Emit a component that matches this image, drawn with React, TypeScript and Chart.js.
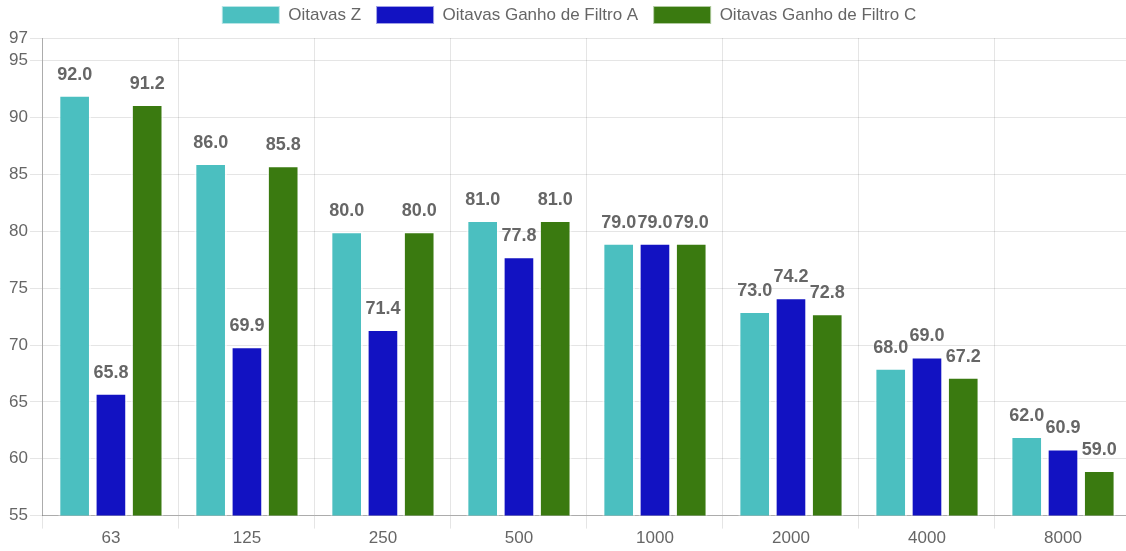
import React, { useEffect, useRef } from "react";
import { Chart, registerables } from "chart.js";

Chart.register(...registerables);

const categories = ["63", "125", "250", "500", "1000", "2000", "4000", "8000"];
const seriesZ = [92.0, 86.0, 80.0, 81.0, 79.0, 73.0, 68.0, 62.0];
const seriesA = [65.8, 69.9, 71.4, 77.8, 79.0, 74.2, 69.0, 60.9];
const seriesC = [91.2, 85.8, 80.0, 81.0, 79.0, 72.8, 67.2, 59.0];
const seriesNames = ["Oitavas Z", "Oitavas Ganho de Filtro A", "Oitavas Ganho de Filtro C"];
const seriesColors = ["#4BBFC0", "#1212C2", "#3A7A10"];

const FONT = "'Liberation Sans', Arial, Helvetica, sans-serif";

const valueLabels = {
  id: "valueLabels",
  afterDatasetsDraw(chart: any) {
    const ctx = chart.ctx;
    ctx.save();
    ctx.font = `bold 18px ${FONT}`;
    ctx.fillStyle = "#666";
    ctx.textAlign = "center";
    ctx.textBaseline = "bottom";
    chart.data.datasets.forEach((ds: any, i: number) => {
      const meta = chart.getDatasetMeta(i);
      meta.data.forEach((el: any, j: number) => {
        ctx.fillText(Number(ds.data[j]).toFixed(1), el.x, el.y - 11);
      });
    });
    ctx.restore();
  },
};

const legendSpacing = {
  id: "legendSpacing",
  beforeInit(chart: any) {
    const legend = chart.legend;
    if (!legend) return;
    const origFit = legend.fit;
    legend.fit = function () {
      origFit.call(this);
      this.height += 4;
    };
  },
};

export default function App() {
  const ref = useRef<HTMLCanvasElement>(null);
  useEffect(() => {
    const data = [seriesZ, seriesA, seriesC];
    const chart = new Chart(ref.current!, {
      type: "bar",
      data: {
        labels: categories,
        datasets: data.map((d, i) => ({
          label: seriesNames[i],
          data: d,
          backgroundColor: seriesColors[i],
          borderColor: "rgba(255,255,255,0.6)",
          borderWidth: 2,
        })),
      },
      options: {
        animation: false,
        responsive: true,
        maintainAspectRatio: false,
        layout: { padding: { left: 7, right: 1, top: -9, bottom: 2 } },
        plugins: {
          legend: {
            labels: {
              color: "#666",
              font: { family: FONT, size: 17 },
              boxWidth: 58,
              boxHeight: 18,
              padding: 15,
            },
          },
          tooltip: { enabled: false },
        },
        scales: {
          x: {
            grid: { color: "rgba(0,0,0,0.1)", tickLength: 13 },
            border: { color: "rgba(0,0,0,0.25)" },
            ticks: { color: "#666", font: { family: FONT, size: 17 }, padding: 0 },
          },
          y: {
            min: 55,
            max: 97,
            grid: { color: "rgba(0,0,0,0.1)", tickLength: 13 },
            border: { color: "rgba(0,0,0,0.25)" },
            ticks: { stepSize: 5, color: "#666", font: { family: FONT, size: 17 }, padding: 2 },
          },
        },
      },
      plugins: [legendSpacing, valueLabels],
    });
    return () => chart.destroy();
  }, []);
  return (
    <div style={{ position: "fixed", left: 0, top: 0, width: 1132, height: 551 }}>
      <canvas ref={ref} />
    </div>
  );
}
